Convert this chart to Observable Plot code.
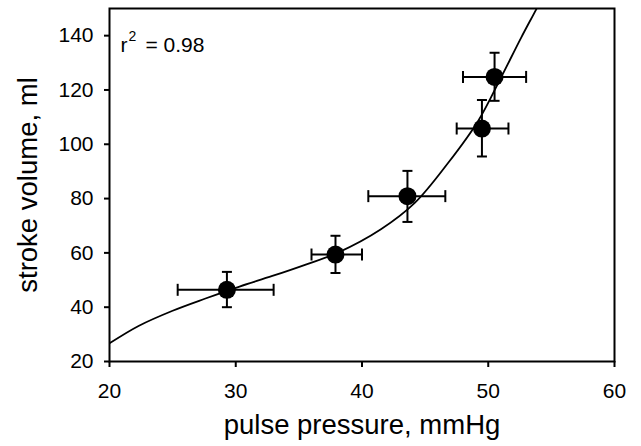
<!DOCTYPE html>
<html>
<head>
<meta charset="utf-8">
<script src="https://cdn.jsdelivr.net/npm/d3@7"></script>
<script src="https://cdn.jsdelivr.net/npm/@observablehq/plot@0.6"></script>
<style>
  html, body { margin: 0; padding: 0; background: #fff; }
  .sv g[aria-label$="tick label"], .sv g[aria-label$="tick label"] text { font-size: 21px !important; }
</style>
</head>
<body>
<div id="chart"></div>
<script>
// Data
const pulsePressure = [29.3, 37.9, 43.6, 49.5, 50.5];
const ppLow  = [25.4, 36.0, 40.5, 47.5, 48.0];
const ppHigh = [33.0, 40.0, 46.6, 51.6, 53.0];
const strokeVolume = [46.4, 59.4, 80.9, 105.8, 124.8];
const svLow  = [40.0, 52.6, 71.4, 95.5, 116.0];
const svHigh = [53.0, 66.3, 90.2, 116.3, 133.7];

// Fitted curve
const curveX = [20, 22.3, 25, 27.6, 30.3, 32.9, 35.6, 38.1, 41.5, 44.2, 46.8, 49.2, 51.0, 52.6, 53.8, 54.5];
const curveY = [26.7, 33.1, 38.7, 43.2, 47.6, 51.5, 55.8, 60.1, 68.7, 78.5, 93.0, 108.6, 124.5, 139.2, 149.7, 156];

const xTicks = [20, 30, 40, 50, 60];
const yTicks = [20, 40, 60, 80, 100, 120, 140];
const xLabel = "pulse pressure, mmHg";
const yLabel = "stroke volume, ml";
const r2Value = "= 0.98";

const points = pulsePressure.map((x, i) => ({
  x, y: strokeVolume[i], xlo: ppLow[i], xhi: ppHigh[i], ylo: svLow[i], yhi: svHigh[i]
}));
const curve = curveX.map((x, i) => ({x, y: curveY[i]}));

const hCap = {draw(ctx, size) { const r = Math.sqrt(size / Math.PI); ctx.moveTo(-r, 0); ctx.lineTo(r, 0); }};
const vCap = {draw(ctx, size) { const r = Math.sqrt(size / Math.PI); ctx.moveTo(0, -r); ctx.lineTo(0, r); }};

const chart = Plot.plot({
  className: "sv",
  width: 641,
  height: 446,
  marginLeft: 109,
  marginRight: 27,
  marginTop: 8,
  marginBottom: 85,
  style: {fontFamily: "'Liberation Sans', Arial, sans-serif", fontSize: "21px", color: "black", background: "white"},
  x: {domain: [20, 60]},
  y: {domain: [20, 150]},
  marks: [
    Plot.axisX({ticks: xTicks, tickSize: 6, tickPadding: 16, fontSize: 21, strokeWidth: 2, label: null}),
    Plot.axisY({ticks: yTicks, tickSize: 5, tickPadding: 11, fontSize: 21, strokeWidth: 2, label: null}),
    Plot.line(curve, {x: "x", y: "y", curve: "catmull-rom", stroke: "black", strokeWidth: 1.8, clip: true}),
    // error bars
    Plot.link(points, {x1: "xlo", x2: "xhi", y1: "y", y2: "y", stroke: "black", strokeWidth: 2}),
    Plot.link(points, {x1: "x", x2: "x", y1: "ylo", y2: "yhi", stroke: "black", strokeWidth: 2}),
    Plot.dot(points, {x: "xlo", y: "y", symbol: vCap, r: 6, stroke: "black", strokeWidth: 2}),
    Plot.dot(points, {x: "xhi", y: "y", symbol: vCap, r: 6, stroke: "black", strokeWidth: 2}),
    Plot.dot(points, {x: "x", y: "ylo", symbol: hCap, r: 5, stroke: "black", strokeWidth: 2}),
    Plot.dot(points, {x: "x", y: "yhi", symbol: hCap, r: 5, stroke: "black", strokeWidth: 2}),
    Plot.dot(points, {x: "x", y: "y", r: 9, fill: "black"}),
    Plot.frame({stroke: "black", strokeWidth: 2}),
    // r^2 annotation
    Plot.text(["r"], {frameAnchor: "top-left", dx: 11, dy: 28.6, textAnchor: "start", fontSize: 21, fill: "black"}),
    Plot.text(["2"], {frameAnchor: "top-left", dx: 19, dy: 22.5, textAnchor: "start", fontSize: 14, fill: "black"}),
    Plot.text([r2Value], {frameAnchor: "top-left", dx: 36, dy: 28.6, textAnchor: "start", fontSize: 21, fill: "black"}),
    // axis titles
    Plot.text([xLabel], {frameAnchor: "bottom", dy: 72, textAnchor: "middle", fontSize: 27.5, fill: "black"}),
    Plot.text([yLabel], {frameAnchor: "left", dx: -81, rotate: -90, textAnchor: "middle", fontSize: 27.5, fill: "black"})
  ]
});
document.getElementById("chart").appendChild(chart);
</script>
</body>
</html>
